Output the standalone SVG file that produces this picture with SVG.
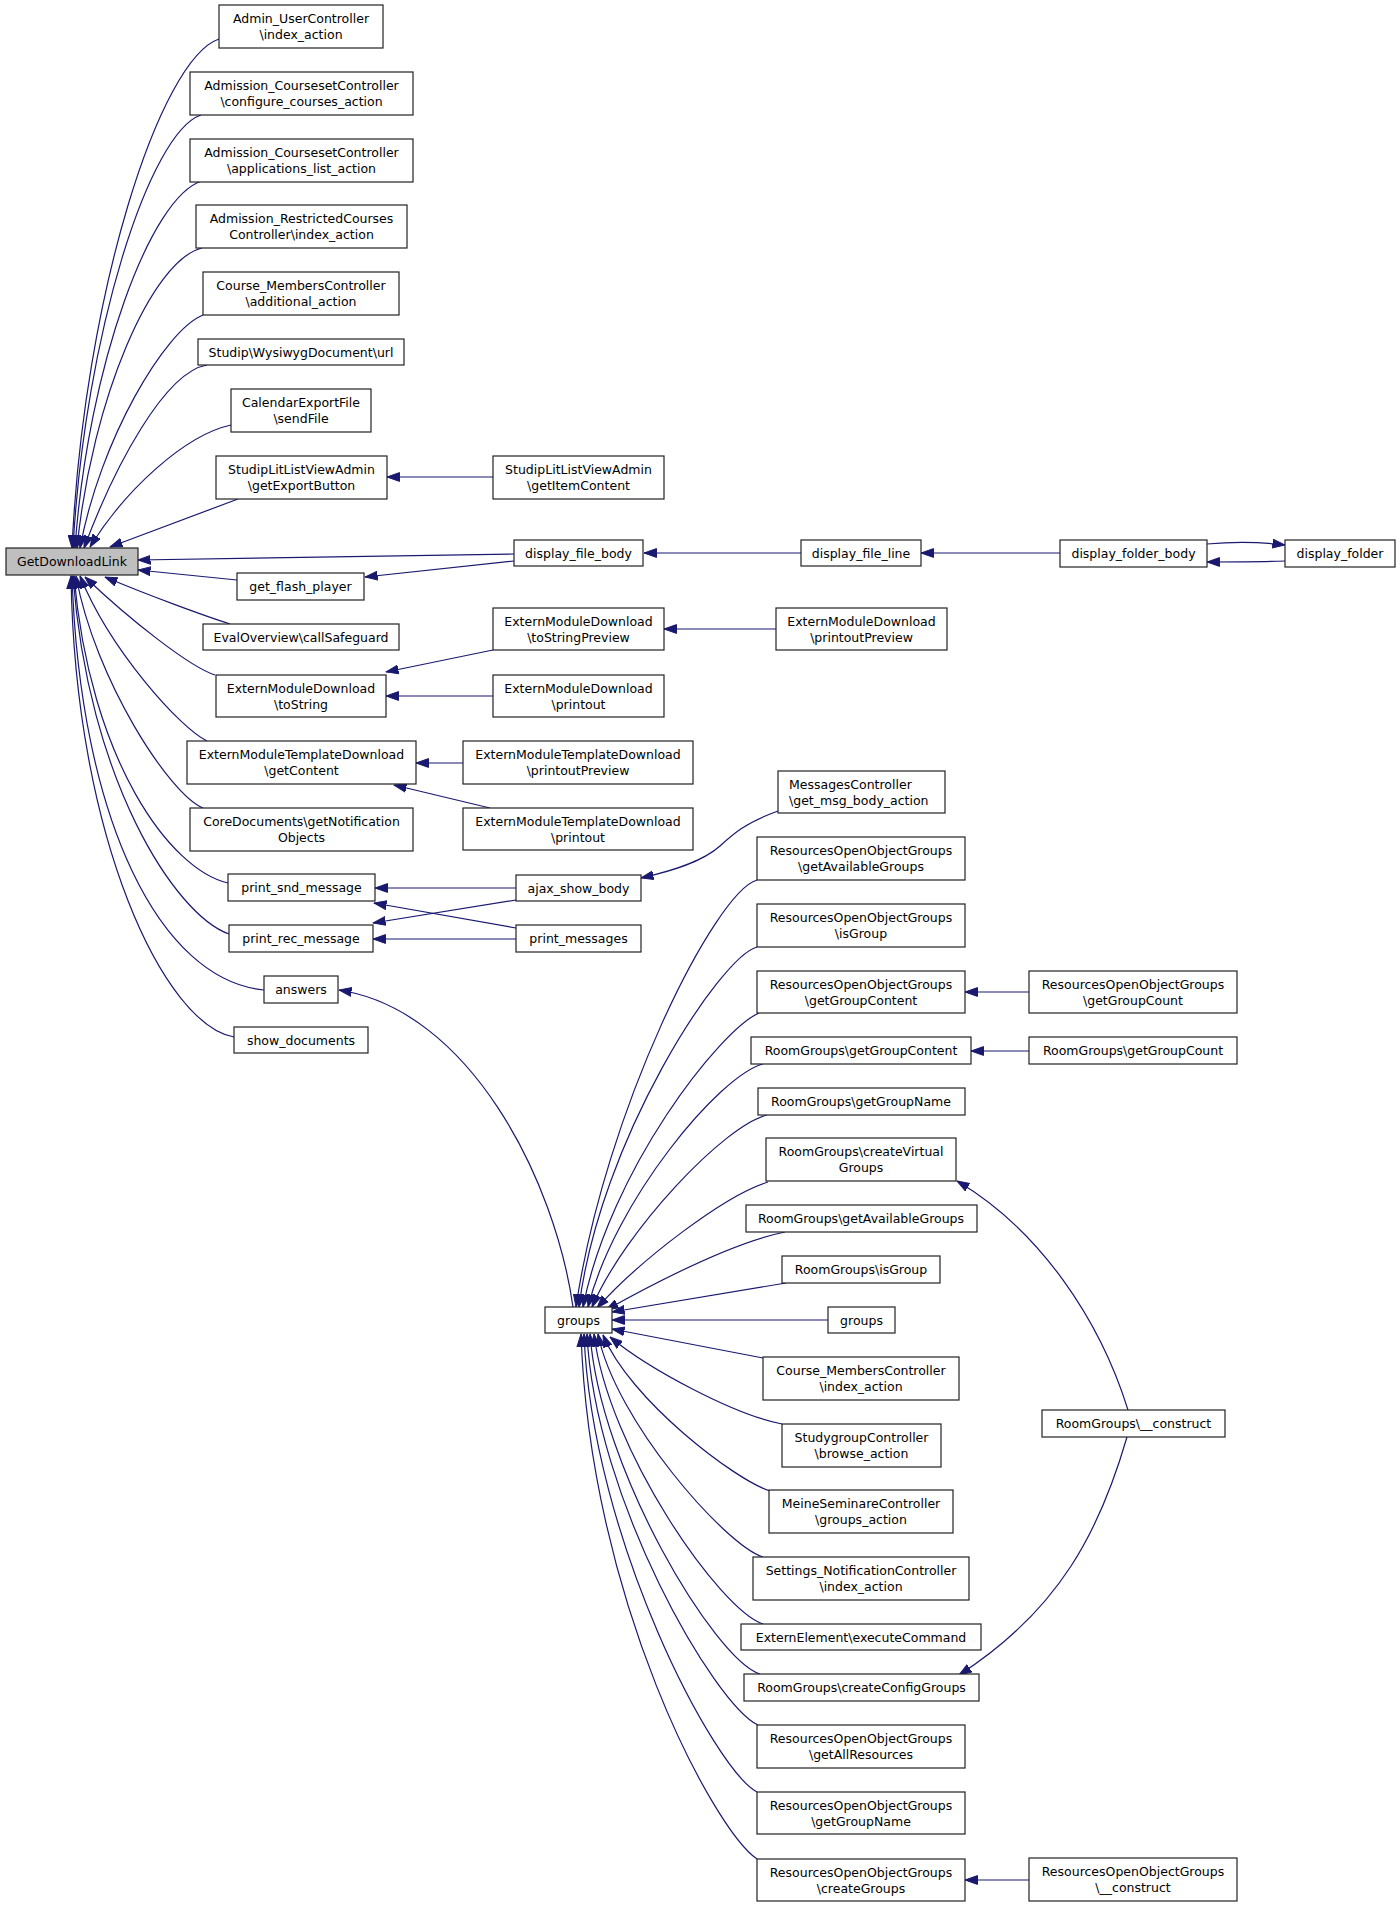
<svg xmlns="http://www.w3.org/2000/svg" width="1400" height="1907" viewBox="0 0 1400 1907">
<style>
.n rect{fill:#fff;stroke:#222;stroke-width:1.2}
.n text{font-family:"DejaVu Sans","Liberation Sans",sans-serif;font-size:12.5px;text-anchor:middle;fill:#000}
.n text.l{text-anchor:start}
#edges path{fill:none;stroke:#191970;stroke-width:1.2;marker-end:url(#a)}
</style>
<defs>
<marker id="a" markerUnits="userSpaceOnUse" markerWidth="13" markerHeight="10" viewBox="0 0 13 10" refX="12.5" refY="5" orient="auto">
<path d="M0,0.6 L12.5,5 L0,9.4 z" fill="#191970" stroke="#191970" stroke-width="1"/>
</marker>
</defs>
<rect width="1400" height="1907" fill="#fff"/>
<g id="edges">
<path d="M219,39 C160,59 84,294 72,548"/>
<path d="M201,115 C150,132 85,332 73,548"/>
<path d="M202,181 C151,196 88,365 75,548"/>
<path d="M202,248 C152,260 92,398 77,548"/>
<path d="M203,315 C165,330 100,440 80,548"/>
<path d="M207,365 C165,372 115,465 84,548"/>
<path d="M231,425 C185,435 125,490 90,547"/>
<path d="M238,499 L110,547"/>
<path d="M514,554 L138,560"/>
<path d="M237,580 L138,570"/>
<path d="M230,624 C205,616 150,596 105,577"/>
<path d="M215,675 C190,667 130,620 85,577"/>
<path d="M207,741 C180,728 110,650 80,576"/>
<path d="M203,808 C170,795 95,680 76,576"/>
<path d="M228,883 C170,870 90,760 74,576"/>
<path d="M229,934 C175,915 88,780 73,576"/>
<path d="M264,990 C160,980 80,820 72,576"/>
<path d="M234,1037 C165,1025 75,840 71,576"/>
<path d="M493,477 L387,477"/>
<path d="M801,553 L644,553"/>
<path d="M1060,553 L921,553"/>
<path d="M1207,544 C1230,542 1260,542 1285,545"/>
<path d="M1285,561 C1260,562 1230,562 1207,562"/>
<path d="M514,561 L365,577"/>
<path d="M493,650 L386,672"/>
<path d="M776,629 L664,629"/>
<path d="M493,696 L386,696"/>
<path d="M463,763 L416,763"/>
<path d="M490,808 L394,785"/>
<path d="M516,888 L375,888"/>
<path d="M516,900 L373,923"/>
<path d="M516,928 L374,903"/>
<path d="M516,939 L373,939"/>
<path d="M778,811 C745,823 733,834 720,846 C702,862 672,871 641,878"/>
<path d="M573,1307 C555,1180 470,1010 339,990"/>
<path d="M757,880 C715,892 605,1110 576,1307"/>
<path d="M757,947 C720,957 600,1140 579,1307"/>
<path d="M759,1013 C720,1030 610,1170 583,1307"/>
<path d="M763,1064 C720,1075 615,1200 588,1307"/>
<path d="M767,1115 C725,1125 625,1230 592,1307"/>
<path d="M768,1182 C725,1195 640,1260 597,1308"/>
<path d="M785,1232 C735,1242 660,1280 606,1310"/>
<path d="M786,1283 L612,1312"/>
<path d="M828,1320 L612,1320"/>
<path d="M763,1358 L612,1329"/>
<path d="M782,1424 C735,1415 650,1370 610,1337"/>
<path d="M770,1491 C735,1480 630,1400 603,1335"/>
<path d="M763,1557 C725,1545 615,1420 598,1334"/>
<path d="M763,1624 C720,1610 608,1450 594,1334"/>
<path d="M760,1674 C715,1660 600,1470 590,1334"/>
<path d="M758,1725 C715,1705 595,1500 587,1334"/>
<path d="M757,1792 C715,1770 592,1540 584,1334"/>
<path d="M757,1859 C714,1830 590,1600 581,1334"/>
<path d="M1029,992 L965,992"/>
<path d="M1029,1051 L971,1051"/>
<path d="M1128,1410 C1100,1320 1040,1230 957,1181"/>
<path d="M1127,1437 C1100,1530 1060,1610 959,1675"/>
<path d="M1029,1880 L965,1880"/>
</g>
<g id="n_admin" class="n"><rect x="219" y="5" width="164" height="43"/><text x="301" y="23">Admin_UserController</text><text x="301" y="39">\index_action</text></g>
<g id="n_acc1" class="n"><rect x="190" y="72" width="223" height="43"/><text x="301.5" y="90">Admission_CoursesetController</text><text x="301.5" y="106">\configure_courses_action</text></g>
<g id="n_acc2" class="n"><rect x="190" y="139" width="223" height="43"/><text x="301.5" y="157">Admission_CoursesetController</text><text x="301.5" y="173">\applications_list_action</text></g>
<g id="n_arc" class="n"><rect x="196" y="205" width="211" height="43"/><text x="301.5" y="223">Admission_RestrictedCourses</text><text x="301.5" y="239">Controller\index_action</text></g>
<g id="n_cmc_add" class="n"><rect x="203" y="272" width="196" height="43"/><text x="301" y="290">Course_MembersController</text><text x="301" y="306">\additional_action</text></g>
<g id="n_wys" class="n"><rect x="198" y="339" width="206" height="26"/><text x="301" y="356.5">Studip\WysiwygDocument\url</text></g>
<g id="n_cal" class="n"><rect x="231" y="389" width="140" height="43"/><text x="301" y="407">CalendarExportFile</text><text x="301" y="423">\sendFile</text></g>
<g id="n_slva_exp" class="n"><rect x="216" y="456" width="171" height="43"/><text x="301.5" y="474">StudipLitListViewAdmin</text><text x="301.5" y="490">\getExportButton</text></g>
<g id="n_gdl" class="n"><rect x="6" y="548" width="132" height="27" style="fill:#bfbfbf"/><text x="72" y="565.5">GetDownloadLink</text></g>
<g id="n_gfp" class="n"><rect x="237" y="573" width="127" height="27"/><text x="300.5" y="590.5">get_flash_player</text></g>
<g id="n_eval" class="n"><rect x="203" y="624" width="196" height="26"/><text x="301" y="641.5">EvalOverview\callSafeguard</text></g>
<g id="n_emd_ts" class="n"><rect x="216" y="675" width="170" height="42"/><text x="301" y="693">ExternModuleDownload</text><text x="301" y="709">\toString</text></g>
<g id="n_emtd_gc" class="n"><rect x="187" y="741" width="229" height="43"/><text x="301.5" y="759">ExternModuleTemplateDownload</text><text x="301.5" y="775">\getContent</text></g>
<g id="n_core" class="n"><rect x="190" y="808" width="223" height="43"/><text x="301.5" y="826">CoreDocuments\getNotification</text><text x="301.5" y="842">Objects</text></g>
<g id="n_psnd" class="n"><rect x="228" y="874" width="147" height="27"/><text x="301.5" y="891.5">print_snd_message</text></g>
<g id="n_prec" class="n"><rect x="229" y="925" width="144" height="27"/><text x="301" y="942.5">print_rec_message</text></g>
<g id="n_answers" class="n"><rect x="264" y="976" width="74" height="27"/><text x="301" y="993.5">answers</text></g>
<g id="n_showdoc" class="n"><rect x="234" y="1027" width="134" height="26"/><text x="301" y="1044.5">show_documents</text></g>
<g id="n_slva_item" class="n"><rect x="493" y="456" width="171" height="43"/><text x="578.5" y="474">StudipLitListViewAdmin</text><text x="578.5" y="490">\getItemContent</text></g>
<g id="n_dfb" class="n"><rect x="514" y="540" width="129" height="26"/><text x="578.5" y="557.5">display_file_body</text></g>
<g id="n_emd_tsp" class="n"><rect x="493" y="608" width="171" height="42"/><text x="578.5" y="626">ExternModuleDownload</text><text x="578.5" y="642">\toStringPreview</text></g>
<g id="n_emd_po" class="n"><rect x="493" y="675" width="171" height="42"/><text x="578.5" y="693">ExternModuleDownload</text><text x="578.5" y="709">\printout</text></g>
<g id="n_emtd_pp" class="n"><rect x="463" y="741" width="230" height="43"/><text x="578" y="759">ExternModuleTemplateDownload</text><text x="578" y="775">\printoutPreview</text></g>
<g id="n_emtd_po" class="n"><rect x="463" y="808" width="230" height="42"/><text x="578" y="826">ExternModuleTemplateDownload</text><text x="578" y="842">\printout</text></g>
<g id="n_ajax" class="n"><rect x="516" y="875" width="125" height="26"/><text x="578.5" y="892.5">ajax_show_body</text></g>
<g id="n_pmsg" class="n"><rect x="516" y="925" width="125" height="27"/><text x="578.5" y="942.5">print_messages</text></g>
<g id="n_groups" class="n"><rect x="545" y="1307" width="67" height="26"/><text x="578.5" y="1324.5">groups</text></g>
<g id="n_dfl" class="n"><rect x="801" y="540" width="120" height="26"/><text x="861" y="557.5">display_file_line</text></g>
<g id="n_emd_pp" class="n"><rect x="776" y="608" width="171" height="42"/><text x="861.5" y="626">ExternModuleDownload</text><text x="861.5" y="642">\printoutPreview</text></g>
<g id="n_msg" class="n"><rect x="778" y="771" width="167" height="42"/><text class="l" x="789" y="789">MessagesController</text><text class="l" x="789" y="805">\get_msg_body_action</text></g>
<g id="n_roog_gag" class="n"><rect x="757" y="837" width="208" height="43"/><text x="861" y="855">ResourcesOpenObjectGroups</text><text x="861" y="871">\getAvailableGroups</text></g>
<g id="n_roog_ig" class="n"><rect x="757" y="904" width="208" height="43"/><text x="861" y="922">ResourcesOpenObjectGroups</text><text x="861" y="938">\isGroup</text></g>
<g id="n_roog_ggc" class="n"><rect x="757" y="971" width="208" height="42"/><text x="861" y="989">ResourcesOpenObjectGroups</text><text x="861" y="1005">\getGroupContent</text></g>
<g id="n_rg_ggc" class="n"><rect x="751" y="1037" width="220" height="27"/><text x="861" y="1054.5">RoomGroups\getGroupContent</text></g>
<g id="n_rg_ggn" class="n"><rect x="758" y="1088" width="207" height="27"/><text x="861" y="1105.5">RoomGroups\getGroupName</text></g>
<g id="n_rg_cvg" class="n"><rect x="766" y="1138" width="190" height="43"/><text x="861" y="1156">RoomGroups\createVirtual</text><text x="861" y="1172">Groups</text></g>
<g id="n_rg_gag" class="n"><rect x="746" y="1205" width="231" height="27"/><text x="861" y="1222.5">RoomGroups\getAvailableGroups</text></g>
<g id="n_rg_ig" class="n"><rect x="782" y="1256" width="158" height="27"/><text x="861" y="1273.5">RoomGroups\isGroup</text></g>
<g id="n_groups2" class="n"><rect x="828" y="1307" width="67" height="26"/><text x="861.5" y="1324.5">groups</text></g>
<g id="n_cmc_idx" class="n"><rect x="763" y="1357" width="196" height="43"/><text x="861" y="1375">Course_MembersController</text><text x="861" y="1391">\index_action</text></g>
<g id="n_sgc" class="n"><rect x="782" y="1424" width="159" height="43"/><text x="861.5" y="1442">StudygroupController</text><text x="861.5" y="1458">\browse_action</text></g>
<g id="n_msc" class="n"><rect x="769" y="1490" width="184" height="43"/><text x="861" y="1508">MeineSeminareController</text><text x="861" y="1524">\groups_action</text></g>
<g id="n_snc" class="n"><rect x="753" y="1557" width="216" height="43"/><text x="861" y="1575">Settings_NotificationController</text><text x="861" y="1591">\index_action</text></g>
<g id="n_ee" class="n"><rect x="741" y="1624" width="240" height="26"/><text x="861" y="1641.5">ExternElement\executeCommand</text></g>
<g id="n_rg_ccg" class="n"><rect x="744" y="1674" width="235" height="27"/><text x="861.5" y="1691.5">RoomGroups\createConfigGroups</text></g>
<g id="n_roog_gar" class="n"><rect x="757" y="1725" width="208" height="43"/><text x="861" y="1743">ResourcesOpenObjectGroups</text><text x="861" y="1759">\getAllResources</text></g>
<g id="n_roog_ggn" class="n"><rect x="757" y="1792" width="208" height="42"/><text x="861" y="1810">ResourcesOpenObjectGroups</text><text x="861" y="1826">\getGroupName</text></g>
<g id="n_roog_cg" class="n"><rect x="757" y="1859" width="208" height="42"/><text x="861" y="1877">ResourcesOpenObjectGroups</text><text x="861" y="1893">\createGroups</text></g>
<g id="n_dfob" class="n"><rect x="1060" y="540" width="147" height="27"/><text x="1133.5" y="557.5">display_folder_body</text></g>
<g id="n_roog_gcnt" class="n"><rect x="1029" y="971" width="208" height="42"/><text x="1133" y="989">ResourcesOpenObjectGroups</text><text x="1133" y="1005">\getGroupCount</text></g>
<g id="n_rg_gcnt" class="n"><rect x="1029" y="1037" width="208" height="27"/><text x="1133" y="1054.5">RoomGroups\getGroupCount</text></g>
<g id="n_rg_con" class="n"><rect x="1042" y="1410" width="183" height="27"/><text x="1133.5" y="1427.5">RoomGroups\__construct</text></g>
<g id="n_roog_con" class="n"><rect x="1029" y="1858" width="208" height="43"/><text x="1133" y="1876">ResourcesOpenObjectGroups</text><text x="1133" y="1892">\__construct</text></g>
<g id="n_dfo" class="n"><rect x="1285" y="540" width="110" height="27"/><text x="1340" y="557.5">display_folder</text></g>
</svg>
